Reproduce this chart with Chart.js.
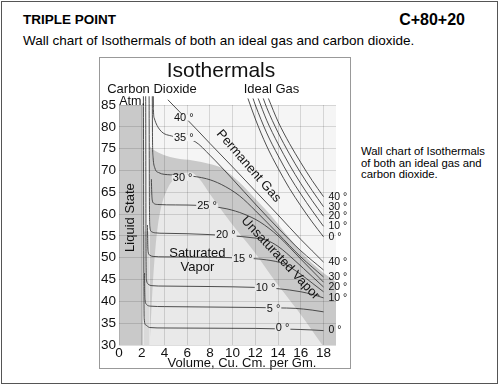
<!DOCTYPE html>
<html>
<head>
<meta charset="utf-8">
<script src="https://cdn.jsdelivr.net/npm/chart.js@4.4.1/dist/chart.umd.min.js"></script>
<style>
  body { margin: 0; background: #fff; font-family: "Liberation Sans", Arial, Helvetica, sans-serif; color: #000; }
  #page { position: relative; width: 500px; height: 385px; overflow: hidden; }
  #frame { position: absolute; left: 1px; top: 1px; width: 497px; height: 383px; box-sizing: border-box; border: 1px solid #555; }
  #panel { position: absolute; left: 99px; top: 57px; width: 252px; height: 312px; box-sizing: border-box; border: 1px solid #999; }
  .txt { position: absolute; white-space: nowrap; }
  #head { left: 23px; top: 12px; font-weight: bold; font-size: 13.5px; line-height: 16px; }
  #code { right: 35px; top: 11px; font-weight: bold; font-size: 16px; line-height: 18px; }
  #sub { left: 23px; top: 33px; font-size: 13.5px; line-height: 16px; }
  #side { left: 361px; top: 146px; font-size: 11.3px; line-height: 11.7px; }
  canvas { position: absolute; left: 0; top: 0; }
</style>
</head>
<body>
<div id="page">
  <div id="frame"></div>
  <div id="panel"></div>
  <div class="txt" id="head">TRIPLE POINT</div>
  <div class="txt" id="code">C+80+20</div>
  <div class="txt" id="sub">Wall chart of Isothermals of both an ideal gas and carbon dioxide.</div>
  <div class="txt" id="side">Wall chart of Isothermals<br>of both an ideal gas and<br>carbon dioxide.</div>
  <canvas id="chart" width="500" height="385"></canvas>
</div>
<script>
// axis ticks
const volTicks = [0, 2, 4, 6, 8, 10, 12, 14, 16, 18];
const atmTicks = [30, 35, 40, 45, 50, 55, 60, 65, 70, 75, 80, 85];

// ideal gas isotherms (volume cc/g, pressure atm)
const ideal0Vol = [11.35, 12, 13, 14, 15, 16, 17, 18];
const ideal0Atm = [86.5, 81.8, 75.6, 70.5, 65.9, 61.9, 58.2, 54.8];
const ideal10Vol = [11.8, 12, 13, 14, 15, 16, 17, 18];
const ideal10Atm = [86.5, 85.0, 78.6, 73.4, 68.7, 64.6, 60.8, 57.2];
const ideal20Vol = [12.25, 13, 14, 15, 16, 17, 18];
const ideal20Atm = [86.5, 81.5, 76.1, 71.3, 67.0, 63.1, 59.5];
const ideal30Vol = [12.7, 13, 14, 15, 16, 17, 18];
const ideal30Atm = [86.5, 84.4, 78.7, 73.8, 69.4, 65.4, 61.7];
const ideal40Vol = [13.15, 14, 15, 16, 17, 18];
const ideal40Atm = [86.5, 81.2, 76.2, 71.8, 67.7, 64.0];

// carbon dioxide isotherms
const co2_0Vol = [2.15, 2.18, 2.22, 2.35, 2.7, 4, 8, 12, 14, 16, 17, 18];
const co2_0Atm = [87, 50, 36, 34.6, 34.0, 33.9, 33.85, 33.8, 33.7, 33.55, 33.45, 33.3];
const co2_5Vol = [2.25, 2.27, 2.3, 2.42, 2.8, 4, 8, 12, 14, 15.5, 17, 18];
const co2_5Atm = [46.5, 42, 40.3, 39.3, 38.9, 38.8, 38.7, 38.6, 38.5, 38.4, 38.0, 37.6];
const co2_10Vol = [2.35, 2.38, 2.42, 2.55, 2.9, 4, 8, 12, 14, 16, 17, 18];
const co2_10Atm = [87, 50, 45, 44, 43.6, 43.5, 43.4, 43.2, 42.9, 42.2, 41.6, 40.8];
const co2_15Vol = [2.5, 2.53, 2.57, 2.7, 3.0, 4, 8, 11, 13, 14.5, 16, 17, 18];
const co2_15Atm = [57.5, 53, 51.3, 50.6, 50.3, 50.2, 50.1, 49.9, 49.5, 48.6, 46.2, 44.2, 42.2];
const co2_20Vol = [2.65, 2.68, 2.72, 2.85, 3.2, 4, 6, 8, 10, 12, 13, 14, 15.5, 17, 18];
const co2_20Atm = [87, 62, 57, 56, 55.7, 55.6, 55.5, 55.3, 55.0, 54.5, 54.0, 52.6, 49.3, 45.7, 43.3];
const co2_25Vol = [2.85, 2.88, 2.93, 3.05, 3.4, 5, 7, 8, 9.5, 11, 12.4, 14, 16, 18];
const co2_25Atm = [68, 65, 63.2, 62.5, 62.2, 62.1, 62.0, 61.8, 61.2, 60.0, 58.2, 55.0, 49.7, 44.4];
const co2_30Vol = [2.93, 2.95, 3.0, 3.15, 3.5, 4.5, 6, 7.7, 9, 10.6, 12, 14, 16, 18];
const co2_30Atm = [87, 77, 73, 70.6, 69.5, 69.0, 68.8, 68.1, 66.8, 64.2, 60.8, 55.5, 50.2, 45.6];
const co2_35Vol = [3.02, 3.03, 3.1, 3.6, 4.75, 6.7, 8, 10, 12, 14, 16, 18];
const co2_35Atm = [87, 84, 82, 79.3, 77.8, 76.6, 73.5, 68, 62.3, 56.8, 51.6, 47.2];
const co2_40Vol = [4.3, 5.5, 6.8, 8, 10, 12, 14, 16, 18];
const co2_40Atm = [86.2, 83, 79.5, 76.2, 70.8, 65.3, 59.8, 54.2, 49];

// shaded regions
const liquidVol = [0, 2.15];
const liquidAtm = [85, 85];
const edgeVol = [2.15, 2.7];
const edgeAtm = [56, 56];
const unsatVol = [2.7, 3.0, 4.0, 5.0, 6.5, 8.0, 9.1, 10.5, 12, 13.5, 15, 16.5, 18, 18.6, 19.1];
const unsatAtm = [75.5, 74.8, 73.5, 72.8, 72.3, 71.5, 70.5, 67.5, 63.5, 59.3, 54.5, 50, 46.5, 45.4, 44.4];
const domeVol = [2.7, 2.85, 3.0, 3.2, 3.4, 3.7, 4.3, 5.2, 6.25, 7.1, 8.0, 9.8, 11.8, 13.7, 15.7, 17.9];
const domeAtm = [30, 38, 45, 52, 57, 61.5, 66, 68.8, 69.6, 68, 64.6, 58.2, 51.7, 44.8, 38, 30];

// isotherm labels on the curves
const midTemps = [40, 35, 30, 25, 20, 15, 10, 5, 0];
const midVol = [5.7, 5.7, 5.6, 7.75, 9.4, 10.9, 12.9, 13.6, 14.4];
const midAtm = [82.1, 77.4, 68.3, 61.8, 55.2, 49.7, 43.0, 38.3, 33.85];

const co2Curves = [
  [co2_0Vol, co2_0Atm], [co2_5Vol, co2_5Atm], [co2_10Vol, co2_10Atm], [co2_15Vol, co2_15Atm],
  [co2_20Vol, co2_20Atm], [co2_25Vol, co2_25Atm], [co2_30Vol, co2_30Atm], [co2_35Vol, co2_35Atm],
  [co2_40Vol, co2_40Atm]
];
const idealCurves = [
  [ideal0Vol, ideal0Atm], [ideal10Vol, ideal10Atm], [ideal20Vol, ideal20Atm],
  [ideal30Vol, ideal30Atm], [ideal40Vol, ideal40Atm]
];
const endTemps = [0, 10, 20, 30, 40];

const FONT = '"Liberation Sans", Arial, Helvetica, sans-serif';
const PLOT_BG = '#f5f5f5';
const DOME_BG = '#e9e9e9';

function pts(vol, atm) {
  return vol.map((v, i) => ({ x: v, y: atm[i] }));
}

function lineSet(vol, atm) {
  return {
    data: pts(vol, atm),
    borderColor: '#3c3c3c',
    borderWidth: 0.9,
    pointRadius: 0,
    fill: false,
    cubicInterpolationMode: 'monotone',
    clip: false,
    order: 0
  };
}

function shadeSet(vol, atm, color, order) {
  return {
    data: pts(vol, atm),
    borderWidth: 0,
    borderColor: 'rgba(0,0,0,0)',
    backgroundColor: color,
    pointRadius: 0,
    fill: 'start',
    cubicInterpolationMode: 'monotone',
    order: order
  };
}

function say(ctx, s, x, y, size, align, angle, knock) {
  ctx.save();
  ctx.translate(x, y);
  if (angle) ctx.rotate(angle * Math.PI / 180);
  ctx.font = size + 'px ' + FONT;
  ctx.textAlign = align || 'center';
  ctx.textBaseline = 'middle';
  if (knock) {
    const w = ctx.measureText(s).width;
    const x0 = ctx.textAlign === 'left' ? 0 : -w / 2;
    ctx.fillStyle = knock;
    ctx.fillRect(x0 - 1, -3, w + 2, 6);
  }
  ctx.fillStyle = '#111';
  ctx.fillText(s, 0, 0);
  ctx.restore();
}

const plotBg = {
  id: 'plotBg',
  beforeDatasetsDraw(chart) {
    const { ctx, chartArea: a } = chart;
    ctx.save();
    ctx.fillStyle = PLOT_BG;
    ctx.fillRect(a.left, a.top, a.right - a.left, a.bottom - a.top);
    ctx.restore();
  }
};

const chartText = {
  id: 'chartText',
  afterDraw(chart) {
    const { ctx } = chart;
    const x = chart.scales.x, y = chart.scales.y;
    const px = v => x.getPixelForValue(v);
    const py = v => y.getPixelForValue(v);

    say(ctx, 'Isothermals', 221, 71, 21);
    say(ctx, 'Carbon Dioxide', 152, 89, 13);
    say(ctx, 'Ideal Gas', 271.5, 89, 13);
    say(ctx, 'Atm.', 132, 101.5, 12.5);
    say(ctx, 'Volume, Cu. Cm. per Gm.', 242, 363, 13);

    say(ctx, 'Liquid State', px(0.97), py(59.2), 13, 'center', -90);
    say(ctx, 'Saturated', px(6.9), py(51.1), 13);
    say(ctx, 'Vapor', px(6.9), py(47.8), 13);
    say(ctx, 'Permanent Gas', px(11.4), py(71.0), 13, 'center', 49);
    say(ctx, 'Unsaturated Vapor', px(14.2), py(49.9), 13, 'center', 47);

    midTemps.forEach((t, i) => {
      const knock = t >= 35 ? PLOT_BG : DOME_BG;
      say(ctx, t + ' °', px(midVol[i]), py(midAtm[i]), 11, 'center', 0, knock);
    });

    endTemps.forEach((t, i) => {
      const ic = idealCurves[i];
      say(ctx, t + ' °', px(ic[0][ic[0].length - 1]) + 5, py(ic[1][ic[1].length - 1]), 10.5, 'left');
      const cc = co2Curves[i * 2];
      say(ctx, t + ' °', px(cc[0][cc[0].length - 1]) + 5, py(cc[1][cc[1].length - 1]), 10.5, 'left');
    });
  }
};

const datasets = [
  shadeSet(liquidVol, liquidAtm, '#c9c9c9', 9),
  shadeSet(edgeVol, edgeAtm, '#d9d9d9', 8),
  shadeSet(unsatVol, unsatAtm, '#c9c9c9', 7),
  shadeSet(domeVol, domeAtm, DOME_BG, 6)
];
idealCurves.forEach(c => datasets.push(lineSet(c[0], c[1])));
co2Curves.forEach(c => datasets.push(lineSet(c[0], c[1])));

new Chart(document.getElementById('chart'), {
  type: 'line',
  data: { datasets: datasets },
  options: {
    responsive: false,
    animation: false,
    layout: { padding: { left: 99, right: 164, top: 105, bottom: 14 } },
    plugins: { legend: { display: false }, tooltip: { enabled: false } },
    scales: {
      x: {
        type: 'linear',
        min: 0,
        max: 19.1,
        afterBuildTicks: s => { s.ticks = volTicks.map(v => ({ value: v })); },
        afterFit: s => { s.height = 26; },
        ticks: { padding: 0, color: '#111', font: { family: FONT, size: 13.5 } },
        grid: { color: 'rgba(0,0,0,0.13)', drawTicks: false, z: 1 },
        border: { display: false }
      },
      y: {
        type: 'linear',
        min: 30,
        max: 85,
        afterBuildTicks: s => { s.ticks = atmTicks.map(v => ({ value: v })); },
        afterFit: s => { s.width = 20; },
        ticks: { padding: 3, color: '#111', font: { family: FONT, size: 13.5 } },
        grid: { color: 'rgba(0,0,0,0.13)', drawTicks: false, z: 1 },
        border: { display: false }
      }
    }
  },
  plugins: [plotBg, chartText]
});
</script>
</body>
</html>
